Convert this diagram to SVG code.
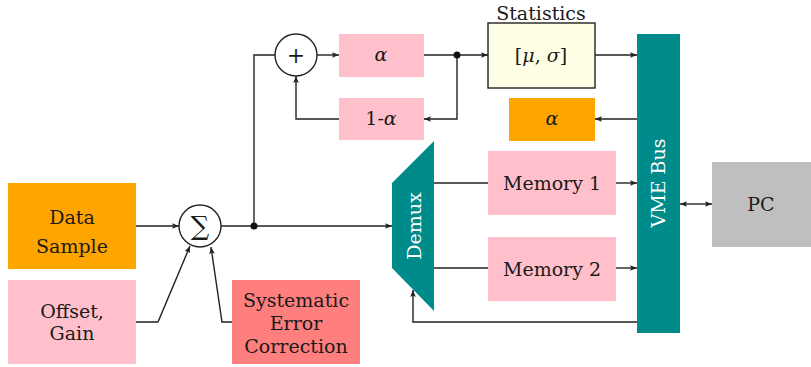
<svg xmlns="http://www.w3.org/2000/svg" width="811" height="367" viewBox="0 0 811 367">
<style>
text{font-family:'DejaVu Serif','Liberation Serif',serif;font-size:19px;fill:#1a1a1a;text-anchor:middle}
.w{fill:#ffffff}
.it{font-style:italic}
.ln{fill:none;stroke:#222;stroke-width:1.4}
</style>
<defs>
<marker id="ah" viewBox="0 0 10 10" refX="10" refY="5" markerWidth="7" markerHeight="7" markerUnits="userSpaceOnUse" orient="auto-start-reverse">
<path d="M0,1 L10,5 L0,9 L2,5 Z" fill="#222"/>
</marker>
</defs>
<rect width="811" height="367" fill="#ffffff"/>
<g id="data"><rect x="8" y="183" width="128" height="86" fill="#FFA500"/><text x="72" y="224">Data</text><text x="72" y="253">Sample</text></g>
<g id="offset"><rect x="8" y="280" width="128" height="84" fill="#FFC0CB"/><text x="72" y="318">Offset,</text><text x="72" y="340">Gain</text></g>
<g id="sec"><rect x="232" y="280" width="128" height="84" fill="#FF7F7F"/><text x="296" y="307">Systematic</text><text x="296" y="330">Error</text><text x="296" y="353">Correction</text></g>
<g id="sum"><circle cx="200" cy="226" r="21" fill="#fff" stroke="#222" stroke-width="1.4"/><text x="200" y="235" style="font-size:26px">∑</text></g>
<g id="plus"><circle cx="296" cy="55" r="21" fill="#fff" stroke="#222" stroke-width="1.4"/><text x="296" y="63" style="font-size:22px">+</text></g>
<g id="alpha1"><rect x="339" y="34" width="85" height="43" fill="#FFC0CB"/><text class="it" x="381" y="61">α</text></g>
<g id="oneminus"><rect x="339" y="98" width="85" height="42" fill="#FFC0CB"/><text x="381" y="125">1-<tspan class="it">α</tspan></text></g>
<g id="stats"><rect x="488" y="23" width="107" height="65" fill="#FFFFE6" stroke="#222" stroke-width="1.4"/><text x="541" y="62">[<tspan class="it">μ</tspan>, <tspan class="it">σ</tspan>]</text><text x="541" y="20">Statistics</text></g>
<g id="alpha2"><rect x="509" y="98" width="86" height="43" fill="#FFA500"/><text class="it" x="552" y="125">α</text></g>
<g id="vme"><rect x="637" y="34" width="43" height="299" fill="#008B8B"/><text class="w" transform="translate(665,183) rotate(-90)">VME Bus</text></g>
<g id="pc"><rect x="712" y="162" width="99" height="85" fill="#BFBFBF"/><text x="761" y="211">PC</text></g>
<g id="demux"><polygon points="434,141 392,183 392,268 434,311" fill="#008B8B"/><text class="w" transform="translate(421,226) rotate(-90)">Demux</text></g>
<g id="mem1"><rect x="488" y="151" width="128" height="64" fill="#FFC0CB"/><text x="552" y="190">Memory 1</text></g>
<g id="mem2"><rect x="488" y="237" width="128" height="64" fill="#FFC0CB"/><text x="552" y="276">Memory 2</text></g>
<g id="connectors">
<path class="ln" d="M136,226 H179" marker-end="url(#ah)"/>
<path class="ln" d="M136,322 H158 L190,246" marker-end="url(#ah)"/>
<path class="ln" d="M232,322 H222 L211,247" marker-end="url(#ah)"/>
<path class="ln" d="M221,226 H392" marker-end="url(#ah)"/>
<path class="ln" d="M254,226 V55 H275"/>
<path class="ln" d="M317,55 H339" marker-end="url(#ah)"/>
<path class="ln" d="M424,55 H488" marker-end="url(#ah)"/>
<path class="ln" d="M457,55 V119 H424" marker-end="url(#ah)"/>
<path class="ln" d="M339,119 H296 V76" marker-end="url(#ah)"/>
<path class="ln" d="M595,55 H637" marker-end="url(#ah)"/>
<path class="ln" d="M637,119 H595" marker-end="url(#ah)"/>
<path class="ln" d="M434,183 H488"/>
<path class="ln" d="M434,268 H488"/>
<path class="ln" d="M616,183 H637" marker-end="url(#ah)"/>
<path class="ln" d="M616,268 H637" marker-end="url(#ah)"/>
<path class="ln" d="M637,322 H413 V290" marker-end="url(#ah)"/>
<path class="ln" d="M680,204 H712" marker-start="url(#ah)" marker-end="url(#ah)"/>
<circle cx="254" cy="226" r="3.5" fill="#111"/>
<circle cx="457" cy="55" r="3.5" fill="#111"/>
</g>
</svg>
